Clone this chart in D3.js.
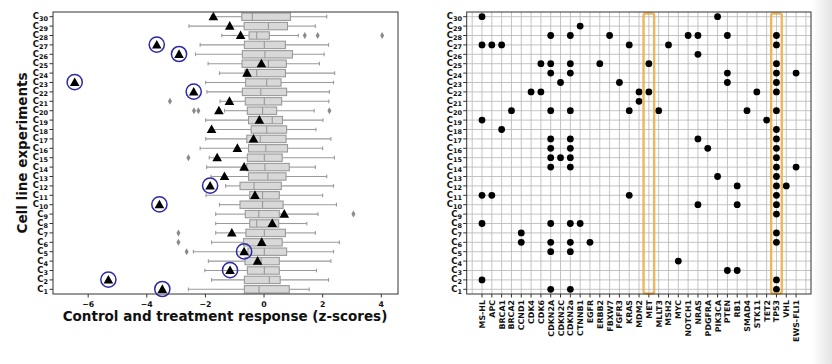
<!DOCTYPE html>
<meta charset="utf-8">
<style>
body { margin: 0; background: #fff; }
text { font-family: "DejaVu Sans", sans-serif; font-weight: bold; fill: #111; }
</style>
<svg width="832" height="364"></svg>
<script src="https://d3js.org/d3.v7.min.js"></script>
<script>

// cell lines C1..C30 (index 0 = C1)
var cellLines = d3.range(1, 31);

// control distribution per cell line (z-scores)
var whiskLo = [-2.58,-1.79,-2.02,-1.90,-2.41,-1.79,-1.65,-1.65,-1.65,-1.52,-1.98,-1.31,-1.81,-1.96,-1.87,
               -2.18,-1.99,-1.82,-1.99,-1.35,-1.50,-1.95,-1.99,-1.52,-1.91,-2.34,-2.18,-1.44,-2.56,-1.80];
var q1 = [-0.67,-0.67,-0.57,-0.65,-0.55,-0.70,-0.62,-0.49,-0.64,-0.82,-0.49,-0.82,-0.53,-0.59,-0.57,
          -0.53,-0.59,-0.44,-0.53,-0.57,-0.64,-0.74,-0.63,-0.65,-0.75,-0.74,-0.67,-0.51,-0.68,-0.76];
var median = [-0.17,0.18,0.01,-0.10,0.01,-0.10,0.01,-0.25,-0.18,-0.05,-0.05,-0.34,0.13,0.03,0.01,
              0.06,-0.13,0.09,0.28,-0.05,0.01,-0.11,0.09,-0.25,0.15,0.03,0.01,-0.25,0.15,-0.40];
var q3 = [0.86,0.55,0.52,0.52,0.77,0.62,0.73,0.50,0.52,0.65,0.52,0.59,0.75,0.86,0.62,
          0.80,0.75,0.77,0.63,0.43,0.60,0.77,0.58,0.73,0.76,0.97,0.73,0.18,0.80,0.90];
var whiskHi = [1.54,2.20,1.79,2.28,2.37,2.57,1.75,1.46,1.84,2.47,2.00,2.37,2.14,1.75,2.40,
               2.00,2.28,1.77,2.01,1.71,2.21,2.23,2.37,2.41,1.89,2.05,2.20,1.17,1.75,2.14];
// outliers: [cell line, z]
var fliers = [[28,1.39],[28,1.83],[28,4.03],[21,-3.21],[20,-2.39],[20,-2.24],[20,2.23],
              [15,-2.58],[9,3.05],[7,-2.92],[6,-2.92],[5,-2.64]];
// treatment response per cell line
var treatment = [-3.47,-5.31,-1.16,-0.22,-0.68,-0.08,-1.10,0.28,0.69,-3.57,-0.31,-1.84,-1.35,-0.68,-1.60,
                 -0.91,-0.36,-1.79,-0.16,-1.54,-1.18,-2.40,-6.46,-0.58,-0.09,-2.90,-3.66,-0.80,-1.17,-1.73];
var circled = [1,2,3,5,10,12,22,23,26,27];

var xTicks = [-6,-4,-2,0,2,4];

var genes = ["MS-HL","APC","BRCA1","BRCA2","CCND1","CDK4","CDK6","CDKN2A","CDKN2C","CDKN2a",
             "CTNNB1","EGFR","ERBB2","FBXW7","FGFR3","KRAS","MDM2","MET","MLLT3","MSH2","MYC",
             "NOTCH1","NRAS","PDGFRA","PIK3CA","PTEN","RB1","SMAD4","STK11","TET2","TP53","VHL","EWS-FLI1"];
var highlighted = ["MET","TP53"];

// mutated genes per cell line: [cell line, genes]
var mutations = [
  [30, ["MS-HL","PIK3CA"]],
  [29, ["CTNNB1"]],
  [28, ["CDKN2A","CDKN2a","FBXW7","NOTCH1","NRAS","PTEN","TP53"]],
  [27, ["MS-HL","APC","BRCA1","KRAS","MSH2","TP53"]],
  [26, ["NRAS"]],
  [25, ["CDK6","CDKN2A","CDKN2a","ERBB2","MET","TP53"]],
  [24, ["CDKN2A","CDKN2a","PTEN","TP53","EWS-FLI1"]],
  [23, ["CDKN2C","FGFR3","PTEN","TP53"]],
  [22, ["CDK4","CDK6","MDM2","MET","STK11","TP53"]],
  [21, ["MDM2"]],
  [20, ["BRCA2","CDKN2A","CDKN2a","KRAS","MLLT3","SMAD4","TP53"]],
  [19, ["MS-HL","TET2"]],
  [18, ["BRCA1","TP53"]],
  [17, ["CDKN2A","CDKN2a","NRAS","TP53"]],
  [16, ["CDKN2A","CDKN2a","PDGFRA","TP53"]],
  [15, ["CDKN2A","CDKN2C","CDKN2a","TP53"]],
  [14, ["CDKN2A","CDKN2a","TP53","EWS-FLI1"]],
  [13, ["PIK3CA","TP53"]],
  [12, ["RB1","TP53","VHL"]],
  [11, ["MS-HL","APC","KRAS","TP53"]],
  [10, ["NRAS","RB1","TP53"]],
  [9,  ["TP53"]],
  [8,  ["MS-HL","CDKN2A","CDKN2a","CTNNB1"]],
  [7,  ["CCND1","TP53"]],
  [6,  ["CCND1","CDKN2A","CDKN2a","EGFR","TP53"]],
  [5,  ["CDKN2A","CDKN2a"]],
  [4,  ["MYC"]],
  [3,  ["PTEN","RB1"]],
  [2,  ["MS-HL","TP53"]],
  [1,  ["CDKN2A","CDKN2a","TP53"]]
];

var svg = d3.select("svg");

// faint shading at the right edge of the picture
var grad = svg.append("defs").append("linearGradient").attr("id", "edge");
grad.append("stop").attr("offset", "0%").attr("stop-color", "#fff");
grad.append("stop").attr("offset", "100%").attr("stop-color", "#e4e4e4");
svg.append("rect").attr("x", 812).attr("y", 0).attr("width", 20).attr("height", 364).attr("fill", "url(#edge)");

var plotTop = 12, plotBottom = 294;
var y = d3.scaleLinear().domain([0.5, 30.5]).range([plotBottom, plotTop]);

function cellLabel(sel, xEnd) {
  sel.each(function(d) {
    var t = d3.select(this).append("text")
        .attr("x", xEnd).attr("y", y(d) + 2.5)
        .attr("text-anchor", "end");
    t.append("tspan").attr("font-size", "8.5px").text("C");
    t.append("tspan").attr("font-size", "6.5px").attr("dy", 2).text(d);
  });
}

// ---------- left panel: box plots ----------
var xL = d3.scaleLinear().domain([-7.2, 4.57]).range([53, 398]);
var gL = svg.append("g");
var boxH = 7.4;

var rows = gL.selectAll(".row")
  .data(cellLines)
  .enter().append("g");

rows.append("line")
    .attr("x1", function(d, i) { return xL(whiskLo[i]); })
    .attr("x2", function(d, i) { return xL(q1[i]); })
    .attr("y1", function(d) { return y(d); }).attr("y2", function(d) { return y(d); })
    .attr("stroke", "#9a9a9a").attr("stroke-width", 1.1);
rows.append("line")
    .attr("x1", function(d, i) { return xL(q3[i]); })
    .attr("x2", function(d, i) { return xL(whiskHi[i]); })
    .attr("y1", function(d) { return y(d); }).attr("y2", function(d) { return y(d); })
    .attr("stroke", "#9a9a9a").attr("stroke-width", 1.1);
[whiskLo, whiskHi].forEach(function(arr) {
  rows.append("line")
      .attr("x1", function(d, i) { return xL(arr[i]); })
      .attr("x2", function(d, i) { return xL(arr[i]); })
      .attr("y1", function(d) { return y(d) - boxH / 4; })
      .attr("y2", function(d) { return y(d) + boxH / 4; })
      .attr("stroke", "#9a9a9a").attr("stroke-width", 1.1);
});
rows.append("rect")
    .attr("x", function(d, i) { return xL(q1[i]); })
    .attr("width", function(d, i) { return xL(q3[i]) - xL(q1[i]); })
    .attr("y", function(d) { return y(d) - boxH / 2; })
    .attr("height", boxH)
    .attr("fill", "#d8d8d8").attr("stroke", "#9a9a9a").attr("stroke-width", 1.1);
rows.append("line")
    .attr("x1", function(d, i) { return xL(median[i]); })
    .attr("x2", function(d, i) { return xL(median[i]); })
    .attr("y1", function(d) { return y(d) - boxH / 2; })
    .attr("y2", function(d) { return y(d) + boxH / 2; })
    .attr("stroke", "#9a9a9a").attr("stroke-width", 1.1);

gL.selectAll(".flier")
  .data(fliers)
  .enter().append("path")
    .attr("transform", function(d) { return "translate(" + xL(d[1]) + "," + y(d[0]) + ")"; })
    .attr("d", d3.symbol().type(d3.symbolDiamond).size(14))
    .attr("fill", "#8a8a8a");

gL.selectAll(".tri")
  .data(cellLines)
  .enter().append("path")
    .attr("d", function(d, i) {
      var cx = xL(treatment[i]), cy = y(d);
      return "M" + cx + "," + (cy - 5) + "L" + (cx + 4.8) + "," + (cy + 3.6) + "L" + (cx - 4.8) + "," + (cy + 3.6) + "Z";
    })
    .attr("fill", "#000");

gL.selectAll(".ring")
  .data(circled)
  .enter().append("circle")
    .attr("cx", function(d) { return xL(treatment[d - 1]); })
    .attr("cy", function(d) { return y(d) - 0.3; })
    .attr("r", 7.6)
    .attr("fill", "none").attr("stroke", "#2d2aa6").attr("stroke-width", 1.5);

gL.append("rect")
    .attr("x", 53).attr("y", plotTop).attr("width", 345).attr("height", plotBottom - plotTop)
    .attr("fill", "none").attr("stroke", "#333").attr("stroke-width", 1);

gL.selectAll(".xt")
  .data(xTicks)
  .enter().append("line")
    .attr("x1", function(d) { return xL(d); }).attr("x2", function(d) { return xL(d); })
    .attr("y1", plotBottom).attr("y2", plotBottom + 3.5)
    .attr("stroke", "#333");
gL.selectAll(".xl")
  .data(xTicks)
  .enter().append("text")
    .attr("x", function(d) { return xL(d); })
    .attr("y", 306.5)
    .attr("text-anchor", "middle")
    .attr("font-size", "7.8px")
    .text(function(d) { return d < 0 ? "\u2212" + (-d) : d; });
gL.selectAll(".yt")
  .data(cellLines)
  .enter().append("line")
    .attr("x1", 49.5).attr("x2", 53)
    .attr("y1", function(d) { return y(d); }).attr("y2", function(d) { return y(d); })
    .attr("stroke", "#333");
gL.selectAll(".yl").data(cellLines).enter().append("g").call(cellLabel, 48);

gL.append("text")
    .attr("x", 225).attr("y", 321)
    .attr("text-anchor", "middle")
    .attr("font-size", "13.5px")
    .text("Control and treatment response (z-scores)");
gL.append("text")
    .attr("transform", "translate(27," + ((plotTop + plotBottom) / 2) + ") rotate(-90)")
    .attr("text-anchor", "middle")
    .attr("font-size", "13.5px")
    .text("Cell line experiments");

// ---------- right panel: mutation matrix ----------
var xR = d3.scaleLinear().domain([-1.56, 33.52]).range([466.7, 811]);
var gR = svg.append("g");

gR.selectAll(".gv")
  .data(d3.range(-1, 34))
  .enter().append("line")
    .attr("x1", function(d) { return xR(d); }).attr("x2", function(d) { return xR(d); })
    .attr("y1", plotTop).attr("y2", plotBottom)
    .attr("stroke", "#b5b5b5").attr("stroke-width", 0.8);
gR.selectAll(".gh")
  .data(cellLines)
  .enter().append("line")
    .attr("x1", xR.range()[0]).attr("x2", xR.range()[1])
    .attr("y1", function(d) { return y(d); }).attr("y2", function(d) { return y(d); })
    .attr("stroke", "#b5b5b5").attr("stroke-width", 0.8);

var dots = [];
mutations.forEach(function(m) {
  m[1].forEach(function(g) { dots.push([m[0], genes.indexOf(g)]); });
});
gR.selectAll(".dot")
  .data(dots)
  .enter().append("circle")
    .attr("cx", function(d) { return xR(d[1]); })
    .attr("cy", function(d) { return y(d[0]); })
    .attr("r", 3.4)
    .attr("fill", "#000");

gR.selectAll(".hl")
  .data(highlighted)
  .enter().append("rect")
    .attr("x", function(d) { return xR(genes.indexOf(d)) - 5.3; })
    .attr("width", 10.6)
    .attr("y", 13.5).attr("height", plotBottom - 13.5 - 0.5)
    .attr("rx", 2)
    .attr("fill", "none").attr("stroke", "#ecae4c").attr("stroke-width", 2.4).attr("stroke-opacity", 0.9);

gR.append("rect")
    .attr("x", 466.7).attr("y", plotTop).attr("width", 811 - 466.7).attr("height", plotBottom - plotTop)
    .attr("fill", "none").attr("stroke", "#333").attr("stroke-width", 1);

gR.selectAll(".gt")
  .data(genes)
  .enter().append("line")
    .attr("x1", function(d, i) { return xR(i); }).attr("x2", function(d, i) { return xR(i); })
    .attr("y1", plotBottom).attr("y2", plotBottom + 3.5)
    .attr("stroke", "#333");
gR.selectAll(".gl")
  .data(genes)
  .enter().append("text")
    .attr("transform", function(d, i) { return "translate(" + (xR(i) + 3) + ",300) rotate(-90)"; })
    .attr("text-anchor", "end")
    .attr("font-size", "7.9px")
    .text(function(d) { return d; });
gR.selectAll(".yt")
  .data(cellLines)
  .enter().append("line")
    .attr("x1", 463.2).attr("x2", 466.7)
    .attr("y1", function(d) { return y(d); }).attr("y2", function(d) { return y(d); })
    .attr("stroke", "#333");
gR.selectAll(".yl").data(cellLines).enter().append("g").call(cellLabel, 462);

</script>
